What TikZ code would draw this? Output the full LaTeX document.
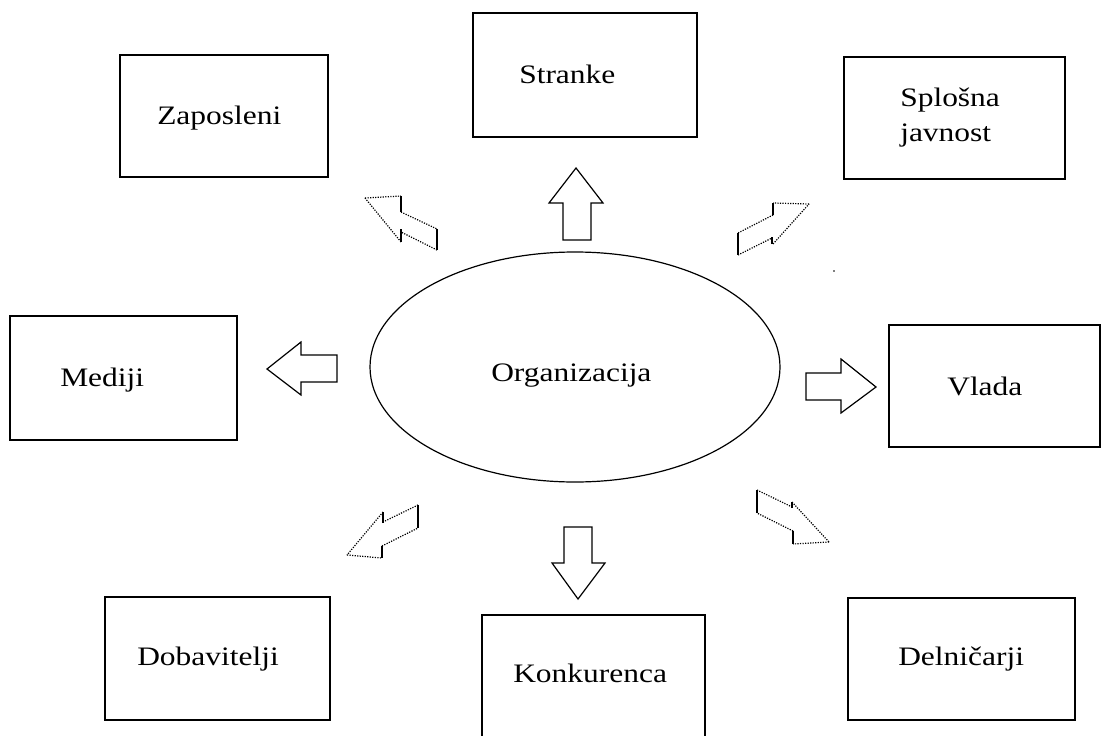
\documentclass[tikz,border=0pt]{standalone}
\usepackage{fontspec}
\setmainfont{Liberation Serif}[FakeStretch=1.18]
\usetikzlibrary{positioning,shapes.geometric}
\tikzset{
  box/.style={draw=black, line width=1.2pt},
  lbl/.style={anchor=base west, inner sep=0pt, font=\fontsize{20}{26}\selectfont},
  blockarrow/.style={draw=black, line width=0.9pt, line join=miter},
  skewdots/.style={draw=black, line width=0.9pt, densely dotted},
  skewline/.style={draw=black, line width=0.9pt},
}
\begin{document}
\begin{tikzpicture}[x=0.75pt,y=-0.75pt]
\useasboundingbox (0,0) rectangle (1102,735);
% boxes
\draw[box] (120,55) rectangle (328,177);
\node[lbl] (zap) at (157,124) {Zaposleni};
\draw[box] (473,13) rectangle (697,137);
\node[lbl] (str) at (519,84) {Stranke};
\draw[box] (844,57) rectangle (1065,179);
\node[lbl, align=left, anchor=north west] (spl) at (900,88) {Splošna\\javnost};
\draw[box] (10,316) rectangle (237,440);
\node[lbl] (med) at (60,386) {Mediji};
\draw[box] (889,325) rectangle (1100,447);
\node[lbl] (vla) at (947,395) {Vlada};
\draw[box] (105,597) rectangle (330,720);
\node[lbl] (dob) at (137,665) {Dobavitelji};
\draw[box] (482,745) -- (482,615) -- (705,615) -- (705,745);
\node[lbl] (kon) at (513,682) {Konkurenca};
\draw[box] (848,598) rectangle (1075,720);
\node[lbl] (del) at (898,665) {Delničarji};
% ellipse
\node[draw=black, line width=0.9pt, ellipse, minimum width=307.5pt, minimum height=172.5pt, inner sep=0pt] (org) at (575,367) {};
\node[lbl] (orgt) at (491,381) {Organizacija};
% straight block arrows
\draw[blockarrow] (576,168) -- (603,203) -- (591,203) -- (591,240) -- (563,240) -- (563,203) -- (549,203) -- cycle;
\draw[blockarrow] (578,599) -- (605,563) -- (592,563) -- (592,527) -- (564,527) -- (564,563) -- (552,563) -- cycle;
\draw[blockarrow] (267,369) -- (301,342) -- (301,355) -- (337,355) -- (337,382) -- (301,382) -- (301,395) -- cycle;
\draw[blockarrow] (876,387) -- (841,359) -- (841,373) -- (806,373) -- (806,400) -- (841,400) -- (841,413) -- cycle;
% skewed arrows (NW)
\draw[skewdots] (365,198) -- (401,196);
\draw[skewline] (401,196) -- (401,212);
\draw[skewdots] (401,212) -- (437,229);
\draw[skewline] (437,229) -- (437,250);
\draw[skewdots] (437,250) -- (401,232);
\draw[skewline] (401,229) -- (401,242);
\draw[skewdots] (401,242) -- (365,198);
% NE
\draw[skewdots] (809,204) -- (773,203);
\draw[skewline] (773,203) -- (773,215);
\draw[skewdots] (773,215) -- (738,233);
\draw[skewline] (738,233) -- (738,255);
\draw[skewdots] (738,255) -- (772,238);
\draw[skewline] (772,237) -- (772,244);
\draw[skewdots] (773,244) -- (809,204);
% SW
\draw[skewdots] (347,555) -- (382,558);
\draw[skewline] (382,558) -- (382,546);
\draw[skewdots] (382,546) -- (418,528);
\draw[skewline] (418,528) -- (418,505);
\draw[skewdots] (418,505) -- (383,522);
\draw[skewline] (383,523) -- (383,512);
\draw[skewdots] (383,512) -- (347,555);
% SE
\draw[skewdots] (829,542) -- (793,544);
\draw[skewline] (793,544) -- (793,531);
\draw[skewdots] (793,531) -- (757,513);
\draw[skewline] (757,513) -- (757,490);
\draw[skewdots] (757,490) -- (792,507);
\draw[skewline] (792,508) -- (792,502);
\draw[skewdots] (792,502) -- (829,542);
% stray dot
\fill[gray] (833,270) rectangle (835,272);
\end{tikzpicture}
\end{document}
